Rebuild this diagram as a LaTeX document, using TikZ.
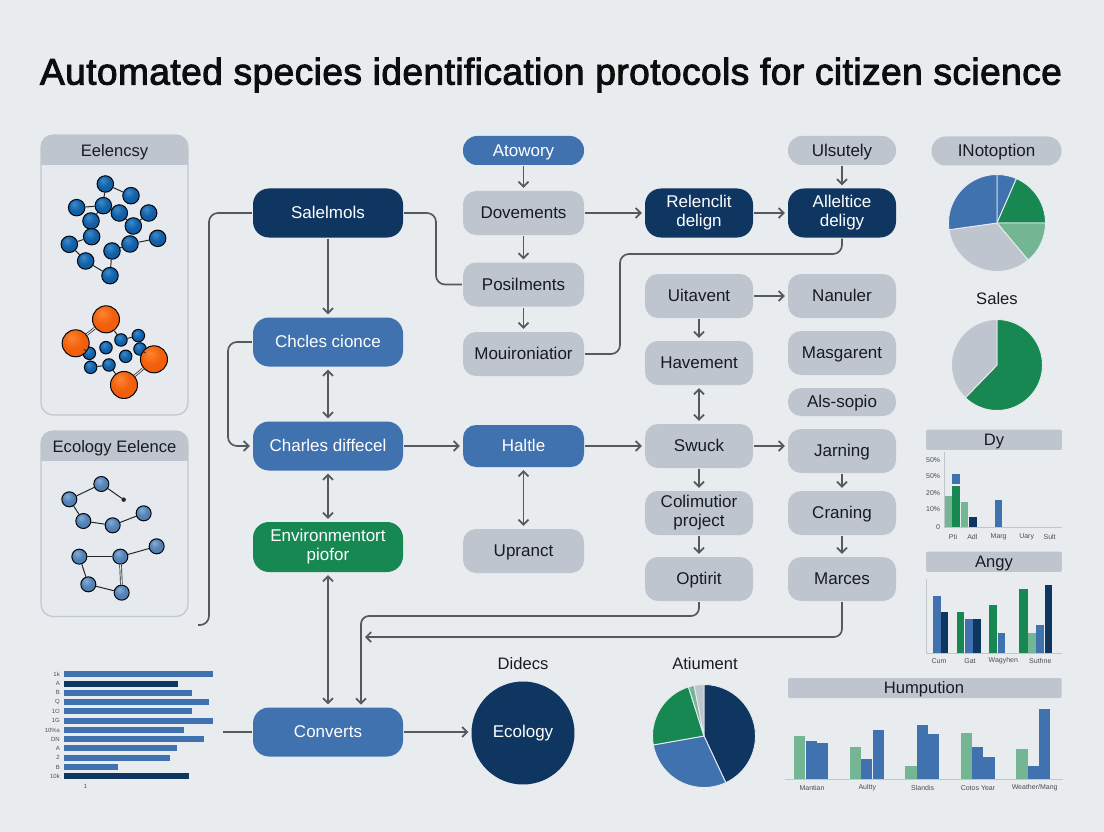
\documentclass[tikz,border=0pt]{standalone}
\usepackage{fontspec}
\setmainfont{Liberation Sans}
\newfontfamily\titlefont[RawFeature={embolden=2.6},LetterSpace=1.2]{Liberation Sans}
\usetikzlibrary{arrows.meta,shapes.geometric}
\definecolor{bgc}{HTML}{E8ECEF}
\definecolor{navy}{HTML}{0F3661}
\definecolor{blu}{HTML}{4072B0}
\definecolor{grn}{HTML}{178852}
\definecolor{lgrn}{HTML}{74B694}
\definecolor{gry}{HTML}{BEC5CF}
\definecolor{lin}{HTML}{55595E}
\definecolor{txt}{HTML}{181B20}
\definecolor{panelc}{HTML}{E6EAEE}
\definecolor{panelb}{HTML}{C0C6CD}
\definecolor{small}{HTML}{4A4F55}
\definecolor{ba}{HTML}{3D8CCC}\definecolor{bb}{HTML}{1361A8}\definecolor{bc}{HTML}{0F5699}\definecolor{bd}{HTML}{0A386B}
\definecolor{sa}{HTML}{85ADD6}\definecolor{sb}{HTML}{5482B5}\definecolor{sc}{HTML}{4D78AB}\definecolor{sd}{HTML}{2E4F75}
\definecolor{oa}{HTML}{FF8533}\definecolor{ob}{HTML}{F2610D}\definecolor{oc}{HTML}{ED5708}\definecolor{od}{HTML}{B83D05}
\pgfdeclareradialshading{ballblue}{\pgfpoint{-8bp}{12bp}}{color(0bp)=(ba);color(18bp)=(bb);color(42bp)=(bc);color(62bp)=(bd)}
\pgfdeclareradialshading{ballsteel}{\pgfpoint{-8bp}{12bp}}{color(0bp)=(sa);color(18bp)=(sb);color(42bp)=(sc);color(62bp)=(sd)}
\pgfdeclareradialshading{ballorange}{\pgfpoint{-8bp}{12bp}}{color(0bp)=(oa);color(18bp)=(ob);color(42bp)=(oc);color(62bp)=(od)}
\newcommand{\mypie}[6]{\begin{scope}[shift={(#1,#2)},x=1pt,y=1pt]
\filldraw[draw=bgc,line width=.9pt,fill=#6] (0,0) -- (#4:#3pt) arc[start angle=#4,end angle=#5,radius=#3pt] -- cycle;
\end{scope}}
\tikzset{
 x=1pt,y=-1pt,
 base/.style={rounded corners=13pt,inner sep=0pt,align=center,text height=14.5pt,text depth=2.6pt,font=\fontsize{17}{19}\selectfont},
 two/.style={text height=,text depth=},
 grayb/.style={base,fill=gry,text=txt,minimum width=#1,minimum height=44pt},
 grayb/.default=108pt,
 pill/.style={base,rounded corners=14pt,minimum width=#1,minimum height=29pt},
 pill/.default=108pt,
 navyb/.style={base,fill=navy,text=white,rounded corners=16pt,minimum width=#1,minimum height=49pt},
 bluew/.style={base,fill=blu,text=white,rounded corners=16pt,minimum width=150pt,minimum height=49pt},
 conn/.style={draw=lin,line width=1.7pt,shorten <=1pt,shorten >=1pt},
 arr/.style={conn,-{Straight Barb[length=5pt,width=10pt,line width=1.7pt]},shorten >=3pt},
 arrb/.style={conn,{Straight Barb[length=5pt,width=10pt,line width=1.7pt]}-{Straight Barb[length=5pt,width=10pt,line width=1.7pt]},shorten >=3pt,shorten <=3pt},
 bent/.style={rounded corners=9pt},
 hdrlabel/.style={inner sep=0pt,text=txt,text height=13.5pt,text depth=2.4pt,font=\fontsize{16.6}{18}\selectfont},
 chartlab/.style={inner sep=0pt,text=small,font=\fontsize{7}{8}\selectfont},
 atomn/.style={circle,draw=black!90!navy,line width=1pt,inner sep=0pt,minimum size=#1},
 bondl/.style={draw=black!85,line width=1pt},
 bondd/.style={draw=black!85,line width=.7pt,double=panelc,double distance=1.1pt},
}
\begin{document}
\begin{tikzpicture}
\useasboundingbox (0,0) rectangle (1104,832);
\fill[bgc] (0,0) rectangle (1104,832);
% title
\node[inner sep=0pt,text=black!95] (title) at (551,75) {\resizebox{1022pt}{!}{\fontsize{36}{40}\titlefont Automated species identification protocols for citizen science}};

% panels
\begin{scope}
\clip[rounded corners=12pt] (41,135) rectangle (188,415);
\fill[panelc] (41,135) rectangle (188,415);
\fill[gry] (41,135) rectangle (188,165.5);
\end{scope}
\draw[panelb,line width=1.2pt,rounded corners=12pt] (41,135) rectangle (188,415);
\node[hdrlabel] (p1t) at (114.5,151) {Eelencsy};
\begin{scope}
\clip[rounded corners=12pt] (41,431) rectangle (188,616.5);
\fill[panelc] (41,431) rectangle (188,616.5);
\fill[gry] (41,431) rectangle (188,461);
\end{scope}
\draw[panelb,line width=1.2pt,rounded corners=12pt] (41,431) rectangle (188,616.5);
\node[hdrlabel] (p2t) at (114.5,447) {Ecology Eelence};

% molecule 1
\begin{scope}[shift={(30,125)},x=.3333pt,y=-.3333pt]
\foreach \n/\px/\py in {a/226/177,b/303/212,c/140/248,d/220/242,e/268/264,f/356/264,g/183/288,h/310/303,i/185/335,j/383/340,k/300/357,l/118/358,m/246/378,n/167/408,o/240/452}
 \node[atomn=16.5pt,shading=ballblue] (m\n) at (\px,\py) {};
\foreach \u/\v in {a/b,a/d,c/d,d/e,d/g,e/h,f/h,g/i,h/k,k/j,k/m,i/l,l/n,n/o,m/o}
 \draw[bondl] (m\u) -- (m\v);
% molecule 2
\foreach \n/\px/\py in {t/325/632,u/273/645,v/228/668,w/178/685,x/330/672,y/287/694,z/237/720,aa/182/727}
 \node[atomn=12.5pt,shading=ballblue] (q\n) at (\px,\py) {};
\foreach \n/\px/\py in {p/228/583,q/137/655,r/372/703,s/282/780}
 \node[atomn=27pt,shading=ballorange] (q\n) at (\px,\py) {};
\foreach \u/\v in {p/u,u/t,t/x,x/r,w/q,w/aa,aa/z,z/s}
 \draw[bondl] (q\u) -- (q\v);
\draw[bondd] (qp) -- (qq);
\draw[bondd] (qr) -- (qs);
\end{scope}
% molecule 3
\begin{scope}[shift={(30,425)},x=.3333pt,y=-.3333pt]
\foreach \n/\px/\py in {a/214/177,b/118/223,c/160/288,d/248/301,e/341/265,f/148/395,g/271/395,h/380/364,i/175/478,j/275/503}
 \node[atomn=15pt,shading=ballsteel] (r\n) at (\px,\py) {};
\node[circle,fill=black!85,inner sep=0pt,minimum size=4.5pt] (rdot) at (281,224) {};
\foreach \u/\v in {a/b,a/dot,b/c,c/d,d/e,f/g,g/h,f/i,i/j}
 \draw[bondl] (r\u) -- (r\v);
\draw[bondd] (rg) -- (rj);
\end{scope}

% flow nodes
\node[navyb=150pt] (sal) at (328,213) {Salelmols};
\node[bluew] (cho) at (328,342) {Chcles cionce};
\node[bluew] (cha) at (328,446) {Charles diffecel};
\node[base,two,fill=grn,text=white,rounded corners=16pt,minimum width=150pt,minimum height=50pt] (env) at (328,547) {Environmentort\\piofor};
\node[bluew] (con) at (328,732) {Converts};
\node[pill=121pt,fill=blu,text=white] (ato) at (523.5,150.5) {Atowory};
\node[grayb=121pt] (dov) at (523.5,213) {Dovements};
\node[grayb=121pt] (pos) at (523.5,284.5) {Posilments};
\node[grayb=121pt] (moi) at (523.5,354) {Mouironiatior};
\node[base,fill=blu,text=white,minimum width=121pt,minimum height=42pt] (hal) at (523.5,446) {Haltle};
\node[grayb=121pt] (upr) at (523.5,551) {Upranct};
\node[navyb=108pt,two] (rel) at (699,213) {Relenclit\\delign};
\node[navyb=108pt,two] (all) at (842,213) {Alleltice\\deligy};
\node[pill,fill=gry,text=txt] (uls) at (842,150.5) {Ulsutely};
\node[grayb] (uit) at (699,296) {Uitavent};
\node[grayb] (nan) at (842,296) {Nanuler};
\node[grayb] (hav) at (699,363) {Havement};
\node[grayb] (mas) at (842,353) {Masgarent};
\node[pill,fill=gry,text=txt,rounded corners=13pt,minimum height=28pt] (als) at (842,402) {Als-sopio};
\node[grayb] (swu) at (699,446) {Swuck};
\node[grayb] (jar) at (842,451) {Jarning};
\node[grayb,two] (col) at (699,513) {Colimutior\\project};
\node[grayb] (cra) at (842,513) {Craning};
\node[grayb] (opt) at (699,579) {Optirit};
\node[grayb] (mar) at (842,579) {Marces};
\node[circle,fill=navy,text=white,inner sep=0pt,minimum size=103pt,font=\fontsize{17}{19}\selectfont] (eco) at (523,733) {Ecology};
\node[hdrlabel] (did) at (523,664) {Didecs};

% connectors
\coordinate (fb) at (197,625);
\coordinate (cl) at (222,732);
\draw[conn,bent] (sal.west) -- (209,213) -- (209,625) -- (fb);
\draw[conn,bent] (sal.east) -- (436,213) -- (436,284.5) -- (pos.west);
\draw[arr] (sal) -- (cho);
\draw[arr,bent] (cho.west) -- (228,342) -- (228,446) -- (cha.west);
\draw[arrb] (cho) -- (cha);
\draw[arrb] (cha) -- (env);
\draw[arrb] (env) -- (con);
\draw[arr] (cha) -- (hal);
\draw[arrb] (hal) -- (upr);
\draw[arr] (hal) -- (swu);
\draw[arr] (ato) -- (dov);
\draw[arr] (dov) -- (pos);
\draw[arr] (pos) -- (moi);
\draw[arr] (dov) -- (rel);
\draw[arr] (rel) -- (all);
\draw[arr] (uls) -- (all);
\draw[conn,bent] (all.south) -- (842,254) -- (620,254) -- (620,354) -- (moi.east);
\draw[arr] (uit) -- (nan);
\draw[arr] (uit) -- (hav);
\draw[arrb] (hav) -- (swu);
\draw[arr] (swu.east) -- (swu.east -| jar.west);
\draw[arr] (swu) -- (col);
\draw[arr] (col) -- (opt);
\draw[arr] (jar) -- (cra);
\draw[arr] (cra) -- (mar);
\coordinate (contop) at (361,707.5);
\coordinate (retn) at (362,637);
\draw[arr,rounded corners=8pt] (opt.south) -- (699,616) -- (361,616) -- (contop);
\draw[arr,rounded corners=8pt] (mar.south) -- (842,637) -- (retn);
\draw[arr] (con.east) -- (con.east -| eco.west);
\draw[conn] (cl) -- (con.west);

% pies
\mypie{997}{223}{48.5}{90}{66.4}{blu}
\mypie{997}{223}{48.5}{66.4}{0}{grn}
\mypie{997}{223}{48.5}{0}{-50}{lgrn}
\mypie{997}{223}{48.5}{-50}{-172}{gry}
\mypie{997}{223}{48.5}{188}{90}{blu}
\node[pill=130pt,fill=gry,text=txt,minimum height=29pt] (ino) at (996.5,151) {INotoption};
\node[hdrlabel] (sl) at (997,299) {Sales};
\mypie{997}{365}{45.5}{90}{-134}{grn}
\mypie{997}{365}{45.5}{226}{90}{gry}
\node[hdrlabel] (atm) at (705,664) {Atiument};
\mypie{704}{736}{51.5}{90}{-65}{navy}
\mypie{704}{736}{51.5}{-65}{-170}{blu}
\mypie{704}{736}{51.5}{190}{107.6}{grn}
\mypie{704}{736}{51.5}{107.6}{101}{lgrn}
\mypie{704}{736}{51.5}{101}{90}{gry}

% Dy chart
\begin{scope}[shift={(920,425)},x=.3333pt,y=-.3333pt]
\fill[gry,rounded corners=2pt] (18,14) rectangle (426,75);
\node[hdrlabel] (dyh) at (222,45) {Dy};
\foreach \a/\b/\c/\d/\col in {73/97/213/307/lgrn,97/120/183/307/grn,97/120/146/177/blu,122/145/230/307/lgrn,147/170/275/307/navy,224/246/226/307/blu}
 \fill[\col] (\a,\c) rectangle (\b,\d);
\draw[panelb,line width=.8pt] (73,80) -- (73,307) -- (425,307);
\foreach \t/\py [count=\i] in {50\%/105,50\%/153,20\%/203,10\%/252,0/305}
 \node[chartlab,anchor=east] (dyy\i) at (61,\py) {\t};
\foreach \t/\px [count=\i] in {Pti/99,Adl/157,Marg/236,Uary/320,Sult/389}
 \node[chartlab] (dyx\i) at (\px,335) {\t};
% Angy chart
\fill[gry,rounded corners=2pt] (18,380) rectangle (426,441);
\node[hdrlabel] (anh) at (222,412) {Angy};
\foreach \a/\b/\c/\col in {38/62/512/blu,62/85/560/navy,110/133/560/grn,135/158/583/blu,160/184/583/navy,208/232/540/grn,233/256/624/blu,298/323/493/grn,323/347/625/lgrn,349/373/600/blu,374/397/481/navy}
 \fill[\col] (\a,\c) rectangle (\b,684);
\draw[panelb,line width=.8pt] (20,462) -- (20,684) -- (425,684);
\foreach \t/\px [count=\i] in {Cum/57,Gat/150,Wagyhen/250,Suthne/361}
 \node[chartlab] (anx\i) at (\px,708) {\t};
\end{scope}

% Humpution chart
\begin{scope}[shift={(780,670)},x=.3333pt,y=-.3333pt]
\fill[gry,rounded corners=2pt] (24,24) rectangle (845,84);
\node[hdrlabel] (huh) at (432,54) {Humpution};
\foreach \a/\b/\c/\col in {42/76/198/lgrn,77/110/214/blu,111/145/219/blu,209/243/231/lgrn,243/277/266/blu,278/311/180/blu,376/410/288/lgrn,410/443/164/blu,443/477/192/blu,543/577/190/lgrn,577/610/231/blu,610/644/260/blu,709/743/238/lgrn,744/777/289/blu,778/811/118/blu}
 \fill[\col] (\a,\c) rectangle (\b,327);
\draw[panelb,line width=.8pt] (14,327) -- (850,327);
\node[chartlab] (hux1) at (96,354) {Mantian};
\node[chartlab] (hux2) at (262,354) {Aultty};
\node[chartlab] (hux3) at (428,354) {Slandis};
\node[chartlab] (hux4) at (594,354) {Cotos Year};
\node[chartlab] (hux5) at (764,354) {Weather/Mang};
\end{scope}

% horizontal bars
\begin{scope}[shift={(40,660)},x=.3333pt,y=-.3333pt]
\foreach \py/\xe/\col/\t [count=\i] in {43/518/blu/1k,71/414/navy/A,98/456/blu/B,126/506/blu/Q,154/456/blu/1O,182/519/blu/1G,210/431/blu/10\%s,238/492/blu/DN,265/410/blu/A,293/390/blu/2,321/235/blu/B,349/446/navy/10k}{
 \fill[\col] (71,\py-9) rectangle (\xe,\py+9);
 \node[chartlab,anchor=east,font=\fontsize{6}{7}\selectfont] (hb\i) at (60,\py) {\t};
}
\node[chartlab,font=\fontsize{6}{7}\selectfont] (hbx) at (137,378) {1};
\end{scope}
\end{tikzpicture}
\end{document}
